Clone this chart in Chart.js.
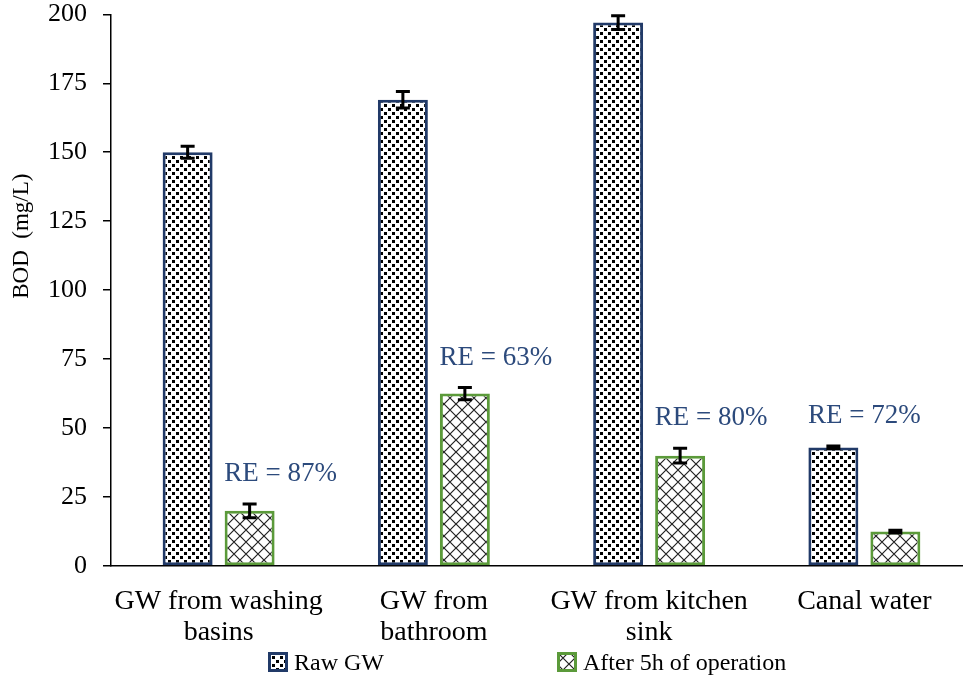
<!DOCTYPE html>
<html lang="en">
<head>
<meta charset="UTF-8">
<title>BOD removal</title>
<script src="https://cdn.jsdelivr.net/npm/chart.js"></script>
<style>
    html, body {
        margin: 0;
        padding: 0;
        background: #fff;
        overflow: hidden;
    }
    #wrap {
        position: relative;
        width: 975px;
        height: 682px;
    }
    #chart-box {
        position: absolute;
        left: 0;
        top: -16px;
        width: 975px;
        height: 666px;
    }
    .leg {
        position: absolute;
        top: 650px;
        height: 24px;
        font-family: "Liberation Serif", serif;
        font-size: 24px;
        line-height: 24px;
        color: #000;
        white-space: nowrap;
    }
    .leg canvas {
        position: absolute;
        left: 0;
        top: 2px;
    }
    .leg span {
        position: absolute;
        left: 26px;
        top: 0;
    }
</style>
</head>
<body>
<div id="wrap">
    <div id="chart-box"><canvas id="bodChart"></canvas></div>
    <div class="leg" style="left:268px"><canvas id="legRaw" width="20" height="20"></canvas><span id="legRawTxt"></span></div>
    <div class="leg" style="left:557px"><canvas id="legAfter" width="20" height="20"></canvas><span id="legAfterTxt"></span></div>
</div>

<script>
    // data
    const categories = [
        ['GW from washing', 'basins'],
        ['GW from', 'bathroom'],
        ['GW from kitchen', 'sink'],
        ['Canal water']
    ];
    const seriesNames = ['Raw GW', 'After 5h of operation'];
    const rawValues = [150, 169, 197, 43];
    const rawErrors = [2.2, 3, 2.5, 0.5];
    const afterValues = [20, 62.5, 40, 12.5];
    const afterErrors = [2.5, 2.2, 2.7, 0.5];
    const reLabels = ['RE = 87%', 'RE = 63%', 'RE = 80%', 'RE = 72%'];
    const reAnchor = [1, 1, 1, 0];   // which series the label sits above
    const yTicks = [0, 25, 50, 75, 100, 125, 150, 175, 200];

    const rawBorder = '#213a68';
    const afterBorder = '#5b9a3a';
    const serif = '"Liberation Serif", "Times New Roman", serif';

    // fill patterns like the Excel ones
    function dotPattern(ctx) {
        const c = document.createElement('canvas');
        c.width = 8; c.height = 8;
        const g = c.getContext('2d');
        g.fillStyle = '#fff';
        g.fillRect(0, 0, 8, 8);
        g.fillStyle = '#000';
        g.fillRect(0, 0, 3, 3);
        g.fillRect(4, 4, 3, 3);
        return ctx.createPattern(c, 'repeat');
    }

    function hatchPattern(ctx) {
        const c = document.createElement('canvas');
        c.width = 12; c.height = 12;
        const g = c.getContext('2d');
        g.fillStyle = '#fff';
        g.fillRect(0, 0, 12, 12);
        g.strokeStyle = '#222';
        g.lineWidth = 1.2;
        g.beginPath();
        g.moveTo(0, 0); g.lineTo(12, 12);
        g.moveTo(12, 0); g.lineTo(0, 12);
        g.stroke();
        return ctx.createPattern(c, 'repeat');
    }

    const ctx = document.getElementById('bodChart').getContext('2d');

    // error bars
    const errorBars = {
        id: 'errorBars',
        afterDatasetsDraw(chart) {
            const c = chart.ctx;
            const y = chart.scales.y;
            const errs = [rawErrors, afterErrors];
            c.save();
            c.strokeStyle = '#000';
            c.lineWidth = 3;
            chart.data.datasets.forEach((ds, i) => {
                chart.getDatasetMeta(i).data.forEach((bar, j) => {
                    const v = ds.data[j], e = errs[i][j];
                    const top = y.getPixelForValue(v + e);
                    const bot = y.getPixelForValue(v - e);
                    c.beginPath();
                    c.moveTo(bar.x, top); c.lineTo(bar.x, bot);
                    c.moveTo(bar.x - 7, top); c.lineTo(bar.x + 7, top);
                    c.moveTo(bar.x - 7, bot); c.lineTo(bar.x + 7, bot);
                    c.stroke();
                });
            });
            c.restore();
        }
    };

    // RE = xx% annotations and the y axis title
    const annotations = {
        id: 'annotations',
        afterDraw(chart) {
            const c = chart.ctx;
            const y = chart.scales.y;
            const errs = [rawErrors, afterErrors];
            c.save();
            c.font = '27px ' + serif;
            c.fillStyle = '#2c4a7c';
            c.textAlign = 'center';
            c.textBaseline = 'middle';
            reLabels.forEach((txt, j) => {
                const s = reAnchor[j];
                const bar = chart.getDatasetMeta(s).data[j];
                const v = chart.data.datasets[s].data[j] + errs[s][j];
                c.fillText(txt, bar.x + 31, y.getPixelForValue(v) - 30);
            });

            const area = chart.chartArea;
            c.translate(22, (area.top + area.bottom) / 2 - 54);
            c.rotate(-Math.PI / 2);
            c.font = '23px ' + serif;
            c.fillStyle = '#000';
            c.fillText('BOD  (mg/L)', 0, 0);
            c.restore();
        }
    };

    new Chart(ctx, {
        type: 'bar',
        data: {
            labels: categories,
            datasets: [{
                label: seriesNames[0],
                data: rawValues,
                backgroundColor: dotPattern(ctx),
                borderColor: rawBorder,
                borderWidth: 3,
                borderSkipped: false
            }, {
                label: seriesNames[1],
                data: afterValues,
                backgroundColor: hatchPattern(ctx),
                borderColor: afterBorder,
                borderWidth: 3,
                borderSkipped: false
            }]
        },
        options: {
            responsive: true,
            maintainAspectRatio: false,
            animation: false,
            categoryPercentage: 0.576,
            barPercentage: 0.806,
            layout: {
                padding: { top: 0, right: 3, left: 0, bottom: 0 }
            },
            scales: {
                x: {
                    grid: { display: false },
                    border: { color: '#000', width: 1.5 },
                    ticks: {
                        color: '#000',
                        padding: 12,
                        maxRotation: 0,
                        autoSkip: false,
                        font: { family: serif, size: 28, lineHeight: 1.1 }
                    },
                    afterFit(s) { s.height = 84; }
                },
                y: {
                    min: 0,
                    max: 200,
                    afterBuildTicks(s) { s.ticks = yTicks.map(v => ({ value: v })); },
                    grid: {
                        drawOnChartArea: false,
                        tickLength: 8,
                        color: '#000',
                        lineWidth: 1.5
                    },
                    border: { color: '#000', width: 1.5 },
                    ticks: {
                        color: '#000',
                        padding: 16,
                        font: { family: serif, size: 26, lineHeight: 1.1 }
                    },
                    afterFit(s) { s.width = 111; }
                }
            },
            plugins: {
                legend: { display: false },
                tooltip: { enabled: false }
            }
        },
        plugins: [errorBars, annotations]
    });

    // legend below the chart
    function legendBox(id, fill, border, txtId, txt) {
        const g = document.getElementById(id).getContext('2d');
        g.fillStyle = fill(g);
        g.fillRect(0, 0, 20, 20);
        g.strokeStyle = border;
        g.lineWidth = 3;
        g.strokeRect(1.5, 1.5, 17, 17);
        document.getElementById(txtId).textContent = txt;
    }
    legendBox('legRaw', dotPattern, rawBorder, 'legRawTxt', seriesNames[0]);
    legendBox('legAfter', hatchPattern, afterBorder, 'legAfterTxt', seriesNames[1]);
</script>
</body>
</html>
